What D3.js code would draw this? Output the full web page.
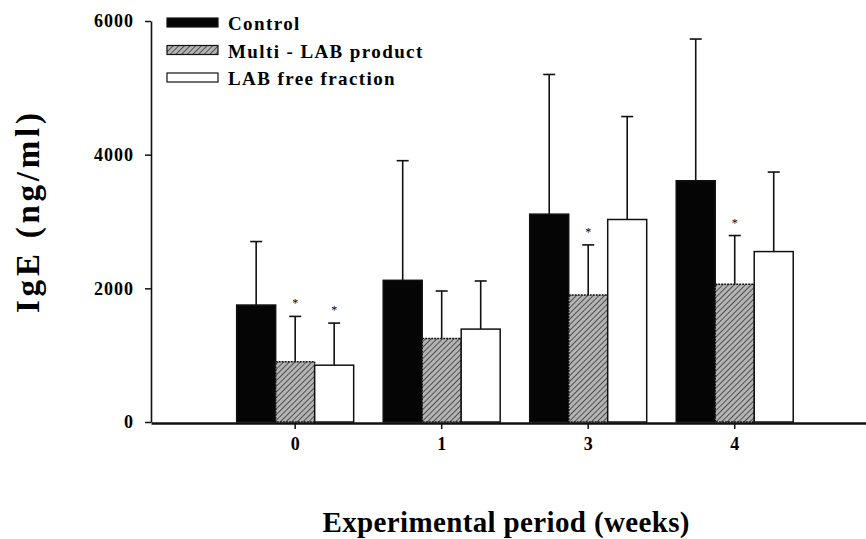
<!doctype html>
<html>
<head>
  <script src="https://d3js.org/d3.v7.min.js"></script>
  <style>
    body { margin: 0; background: #fff; }
    text { font-family: "Liberation Serif", "Times New Roman", serif; font-weight: bold; fill: #000; }
  </style>
</head>
<body>
  <script>

    var weeks = ["0", "1", "3", "4"];
    var series = ["Control", "Multi - LAB product", "LAB free fraction"];

    // means and standard deviations (ng/ml)
    var control = [1750, 2120, 3110, 3610];
    var controlSD = [950, 1790, 2090, 2120];
    var multi = [900, 1250, 1900, 2060];
    var multiSD = [680, 710, 750, 730];
    var labFree = [850, 1390, 3030, 2550];
    var labFreeSD = [630, 720, 1540, 1190];

    // significant differences: [week, series]
    var stars = [["0", 1], ["0", 2], ["3", 1], ["4", 1]];

    var yTicks = [0, 2000, 4000, 6000];

    var values = [control, multi, labFree];
    var sds = [controlSD, multiSD, labFreeSD];

    var rows = [];
    weeks.forEach(function (w, i) {
      series.forEach(function (s, j) {
        rows.push({ week: w, s: j, v: values[j][i], sd: sds[j][i] });
      });
    });

    var svg = d3.select("body").append("svg")
        .attr("width", 866)
        .attr("height", 539);

    // hatch pattern
    var defs = svg.append("defs");
    var pat = defs.append("pattern")
        .attr("id", "hatch")
        .attr("patternUnits", "userSpaceOnUse")
        .attr("width", 4)
        .attr("height", 4)
        .attr("patternTransform", "rotate(45)");
    pat.append("rect").attr("width", 4).attr("height", 4).attr("fill", "#b4b4b4");
    pat.append("line").attr("x1", 0).attr("y1", 0).attr("x2", 0).attr("y2", 4)
        .attr("stroke", "#333").attr("stroke-width", 1.6);

    var fills = ["#050505", "url(#hatch)", "#fff"];

    var y = d3.scaleLinear().domain([0, 6000]).range([422, 21]);

    var x = d3.scaleBand()
        .domain(weeks)
        .range([151, 866])
        .paddingInner(0)
        .paddingOuter(0.44)
        .align(0.55);

    var xs = d3.scaleBand()
        .domain([0, 1, 2])
        .range([-58.5, 58.5]);

    function cx(d) { return x(d.week) + x.bandwidth() / 2; }

    // bars
    svg.selectAll(".bar")
        .data(rows)
        .enter()
        .append("rect")
        .attr("class", "bar")
        .attr("x", function (d) { return cx(d) + xs(d.s); })
        .attr("y", function (d) { return y(d.v); })
        .attr("width", xs.bandwidth())
        .attr("height", function (d) { return y(0) - y(d.v); })
        .attr("fill", function (d) { return fills[d.s]; })
        .attr("stroke", "#111")
        .attr("stroke-width", 1.5)
        .attr("stroke-dasharray", function (d) { return d.s === 1 ? "2,1" : null; });

    // error bars
    var err = svg.selectAll(".err")
        .data(rows)
        .enter()
        .append("g")
        .attr("class", "err")
        .attr("stroke", "#111")
        .attr("stroke-width", 1.6);

    err.append("line")
        .attr("x1", function (d) { return cx(d) + xs(d.s) + xs.bandwidth() / 2; })
        .attr("x2", function (d) { return cx(d) + xs(d.s) + xs.bandwidth() / 2; })
        .attr("y1", function (d) { return y(d.v); })
        .attr("y2", function (d) { return y(d.v + d.sd); });

    err.append("line")
        .attr("x1", function (d) { return cx(d) + xs(d.s) + xs.bandwidth() / 2 - 6; })
        .attr("x2", function (d) { return cx(d) + xs(d.s) + xs.bandwidth() / 2 + 6; })
        .attr("y1", function (d) { return y(d.v + d.sd); })
        .attr("y2", function (d) { return y(d.v + d.sd); });

    // asterisks
    svg.selectAll(".star")
        .data(stars)
        .enter()
        .append("text")
        .attr("class", "star")
        .attr("x", function (d) { return x(d[0]) + x.bandwidth() / 2 + xs(d[1]) + xs.bandwidth() / 2; })
        .attr("y", function (d) {
          var i = weeks.indexOf(d[0]);
          return y(values[d[1]][i] + sds[d[1]][i]) - 9;
        })
        .attr("text-anchor", "middle")
        .attr("fill", "#000")
        .style("font-size", "12px")
        .style("font-weight", "normal")
        .text("*");

    // y axis
    var yAxis = svg.append("g")
        .attr("transform", "translate(151,0)")
        .call(d3.axisLeft(y).tickValues(yTicks).tickFormat(d3.format("d"))
          .tickSize(6).tickSizeOuter(0).tickPadding(11));
    yAxis.select(".domain").attr("stroke", "#111").attr("stroke-width", 1.6);
    yAxis.selectAll(".tick line").attr("stroke", "#111").attr("stroke-width", 1.5);
    yAxis.selectAll("text").style("font-size", "18px").attr("fill", "#000")
        .style("letter-spacing", "1px")
        .style("font-family", "'Liberation Serif', serif").style("font-weight", "bold");

    // x axis
    var xAxis = svg.append("g")
        .attr("transform", "translate(0,423)")
        .call(d3.axisBottom(x).tickSize(6).tickSizeOuter(0).tickPadding(8));
    xAxis.select(".domain").attr("stroke", "#111").attr("stroke-width", 2.6);
    xAxis.selectAll(".tick line").attr("stroke", "#111").attr("stroke-width", 1.5);
    xAxis.selectAll("text").style("font-size", "18px").attr("fill", "#000")
        .style("font-family", "'Liberation Serif', serif").style("font-weight", "bold");

    // axis titles
    svg.append("text")
        .attr("transform", "translate(39,213) rotate(-90)")
        .attr("text-anchor", "middle")
        .attr("textLength", 200)
        .attr("lengthAdjust", "spacing")
        .style("font-size", "33px")
        .text("IgE (ng/ml)");

    svg.append("text")
        .attr("x", 506)
        .attr("y", 532)
        .attr("text-anchor", "middle")
        .attr("textLength", 367)
        .attr("lengthAdjust", "spacing")
        .style("font-size", "29px")
        .text("Experimental period (weeks)");

    // legend
    var legend = svg.selectAll(".legend")
        .data(series)
        .enter()
        .append("g")
        .attr("class", "legend")
        .attr("transform", function (d, i) { return "translate(167," + (18 + i * 27.5) + ")"; });

    legend.append("rect")
        .attr("width", 51)
        .attr("height", 9)
        .attr("fill", function (d, i) { return fills[i]; })
        .attr("stroke", "#111")
        .attr("stroke-width", 1.2);

    legend.append("text")
        .attr("x", 61)
        .attr("y", 12)
        .style("font-size", "19px")
        .style("letter-spacing", "1.4px")
        .text(function (d) { return d; });

  </script>
</body>
</html>
